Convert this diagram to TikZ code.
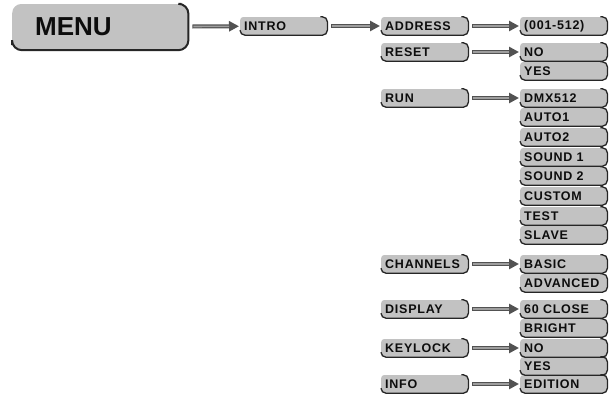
\documentclass[tikz,border=0pt]{standalone}
\usepackage{fontspec}
\setmainfont{Liberation Sans}
\newfontfamily\btnfont[LetterSpace=6]{Liberation Sans}
\usetikzlibrary{arrows.meta}

\tikzset{
  btn/.style={rectangle, rounded corners=3pt, fill=black!24, anchor=west,
    minimum height=18pt, inner xsep=4pt, inner ysep=0pt, text width=79pt,
    align=left, text=black!95,
    font=\btnfont\bfseries\fontsize{12.5}{13}\selectfont},
  bigbtn/.style={btn, rounded corners=9pt, minimum height=46pt,
    inner xsep=23pt, text width=130pt,
    font=\bfseries\fontsize{26}{28}\selectfont},
  btnline/.style={draw=black!85, line width=1.3pt, rounded corners=5pt},
  bigline/.style={draw=black!85, line width=2pt, rounded corners=10pt},
  conn/.style={draw=black!68, line width=4pt,
    -{Triangle[length=10pt,width=10pt]}, shorten <=4pt, shorten >=1pt,
    postaction={draw=black!38, line width=1.6pt, -, shorten <=5pt, shorten >=11pt}},
}

% dark lower/right rim of a button
\newcommand\rim[2][btnline]{%
  \draw[#1] ([xshift=-7pt]#2.north east) -- (#2.north east) -- (#2.south east)
    -- (#2.south west) -- ([yshift=5pt]#2.south west);}

\begin{document}
\begin{tikzpicture}[x=1pt,y=-1pt]
\useasboundingbox (0,0) rectangle (610,394);

% main entry
\node[bigbtn] (menu) at (12,27) {MENU};
\node[btn] (intro) at (240,26) {INTRO};

% second level
\node[btn] (address)  at (381,26)  {ADDRESS};
\node[btn] (reset)    at (381,52)  {RESET};
\node[btn] (run)      at (381,98)  {RUN};
\node[btn] (channels) at (381,264) {CHANNELS};
\node[btn] (display)  at (381,309) {DISPLAY};
\node[btn] (keylock)  at (381,348) {KEYLOCK};
\node[btn] (info)     at (381,384) {INFO};

% third level
\node[btn] (addr)    at (520,26)  {(001-512)};
\node[btn] (rno)     at (520,52)  {NO};
\node[btn] (ryes)    at (520,71)  {YES};
\node[btn] (dmx)     at (520,98)  {DMX512};
\node[btn] (auto1)   at (520,117) {AUTO1};
\node[btn] (auto2)   at (520,137) {AUTO2};
\node[btn] (sound1)  at (520,157) {SOUND 1};
\node[btn] (sound2)  at (520,176) {SOUND 2};
\node[btn] (custom)  at (520,196) {CUSTOM};
\node[btn] (test)    at (520,216) {TEST};
\node[btn] (slave)   at (520,235) {SLAVE};
\node[btn] (basic)   at (520,264) {BASIC};
\node[btn] (adv)     at (520,283) {ADVANCED};
\node[btn] (close)   at (520,309) {60 CLOSE};
\node[btn] (bright)  at (520,328) {BRIGHT};
\node[btn] (kno)     at (520,348) {NO};
\node[btn] (kyes)    at (520,366) {YES};
\node[btn] (edition) at (520,384) {EDITION};

% rims
\rim[bigline]{menu}
\foreach \n in {intro,address,reset,run,channels,display,keylock,info,
  addr,rno,ryes,dmx,auto1,auto2,sound1,sound2,custom,test,slave,
  basic,adv,close,bright,kno,kyes,edition}{\rim{\n}}

% connectors
\draw[conn] (menu) -- (intro);
\draw[conn] (intro) -- (address);
\draw[conn] (address) -- (addr);
\draw[conn] (reset) -- (rno);
\draw[conn] (run) -- (dmx);
\draw[conn] (channels) -- (basic);
\draw[conn] (display) -- (close);
\draw[conn] (keylock) -- (kno);
\draw[conn] (info) -- (edition);
\end{tikzpicture}
\end{document}
